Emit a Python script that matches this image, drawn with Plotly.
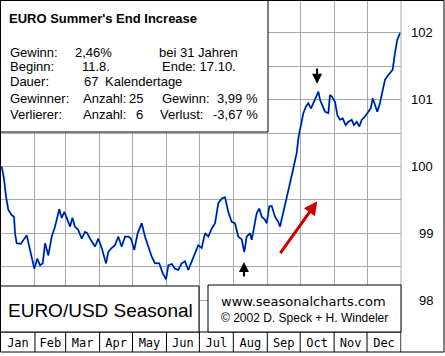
import plotly.graph_objects as go

# ---------------- data ----------------
days = [0.6, 2.7, 4.6, 6.7, 9.8, 11.9, 12.8, 14.3, 18.0, 20.3, 23.5, 25.8, 28.0, 30.4, 33.1,
        35.6, 38.1, 40.2, 43.2, 46.3, 49.3, 53.2, 55.4, 57.8, 60.0, 63.0, 65.1, 67.5, 70.5,
        73.6, 76.7, 78.7, 81.2, 85.8, 88.8, 91.9, 95.8, 97.9, 101.0, 104.0, 107.0, 110.1,
        113.2, 116.2, 118.6, 121.6, 124.7, 128.4, 131.4, 134.4, 137.5, 140.5, 144.4, 147.6,
        150.6, 152.7, 155.8, 158.8, 161.8, 164.9, 167.9, 170.9, 174.0, 177.0, 180.0, 183.1,
        186.2, 189.2, 192.3, 195.3, 198.3, 201.4, 204.4, 207.4, 210.5, 213.5, 216.5, 219.6,
        222.0, 224.2, 227.2, 228.8, 231.1, 233.3, 235.7, 237.9, 240.9, 242.5, 244.8, 247.0,
        250.0, 253.0, 254.6, 256.1, 259.1, 261.2, 263.7, 266.7, 269.8, 271.6, 273.8, 275.9,
        278.3, 280.4, 282.9, 285.0, 287.4, 289.6, 291.1, 293.6, 295.7, 298.7, 300.2, 301.8,
        304.8, 306.9, 309.3, 311.8, 314.5, 316.9, 320.0, 322.1, 324.6, 327.0, 329.2, 332.2,
        335.2, 337.4, 339.2, 341.3, 343.4, 345.8, 348.3, 350.4, 353.4, 357.4, 359.5, 361.6,
        364.2]
values = [100.0, 99.82, 99.55, 99.35, 99.27, 99.25, 99.0, 98.85, 98.84, 98.9, 98.97, 98.8,
          98.65, 98.47, 98.62, 98.52, 98.55, 98.85, 98.67, 98.95, 99.1, 99.36, 99.23, 99.32,
          99.23, 99.1, 99.23, 99.1, 99.05, 98.92, 99.02, 99.0, 98.92, 98.8, 98.92, 98.78,
          98.55, 98.72, 98.78, 98.82, 98.95, 98.8, 98.95, 98.95, 98.92, 98.75, 99.0, 99.15,
          98.95, 98.8, 98.65, 98.55, 98.55, 98.4, 98.31, 98.52, 98.54, 98.47, 98.45, 98.55,
          98.58, 98.45, 98.58, 98.7, 98.82, 98.78, 99.0, 98.95, 99.07, 99.15, 99.45, 99.52,
          99.54, 99.32, 99.17, 99.15, 98.95, 98.91, 98.72, 98.95, 99.0, 98.9, 99.1, 99.3,
          99.37, 99.25, 99.2, 99.15, 99.4, 99.41, 99.25, 99.17, 99.1, 99.2, 99.4, 99.55,
          99.75, 99.97, 100.2, 100.45, 100.65, 100.8, 100.9, 100.95, 100.87, 100.95, 101.02,
          101.12, 101.0, 100.9, 100.82, 100.8, 101.07, 101.05, 100.97, 100.77, 100.7, 100.72,
          100.62, 100.67, 100.7, 100.62, 100.67, 100.6, 100.7, 100.75, 100.82, 100.87, 101.02,
          100.9, 100.82, 100.95, 101.15, 101.3, 101.37, 101.45, 101.7, 101.9, 102.0]

month_names = ["Jan", "Feb", "Mar", "Apr", "May", "Jun",
               "Jul", "Aug", "Sep", "Oct", "Nov", "Dec"]
month_starts = [0, 31, 59, 90, 120, 151, 181, 212, 243, 273, 304, 334, 365]
price_labels = [98, 99, 100, 101, 102]
grid_levels = [98, 98.5, 99, 99.5, 100, 100.5, 101, 101.5, 102]

title_text = "EURO Summer's End Increase"
info_rows = [
    ("Gewinn:", "2,46%", "bei 31 Jahren", ""),
    ("Beginn:", "11.8.", "Ende: 17.10.", ""),
    ("Dauer:", "67", "Kalendertage", ""),
    ("Gewinner:", "Anzahl:", "25", "Gewinn:", "3,99 %"),
    ("Verlierer:", "Anzahl:", "6", "Verlust:", "-3,67 %"),
]

# -------------- layout helpers --------------
W, H = 445, 356
L, R, T, B = 1, 44, 1, 24
PW = W - L - R
PH = H - T - B


def px(x):
    return (x - L) / PW


def py(y):
    return (H - B - y) / PH


GRID = "#a8a8a8"
FONT = "Liberation Sans"

fig = go.Figure()
fig.add_trace(go.Scatter(x=days, y=values, mode="lines",
                         line=dict(color="#20a8d8", width=2.0),
                         hoverinfo="skip", showlegend=False))
fig.add_trace(go.Scatter(x=days, y=values, mode="lines",
                         line=dict(color="#0000a8", width=1.2),
                         showlegend=False))

mid_months = [(month_starts[i] + month_starts[i + 1]) / 2 for i in range(12)]

shapes = []
shapes.append(dict(type="line", xref="paper", yref="paper", x0=px(401), x1=px(401),
                   y0=py(0), y1=py(352), line=dict(color=GRID, width=1), layer="above"))
shapes.append(dict(type="line", xref="paper", yref="paper", x0=px(0), x1=px(401),
                   y0=py(332), y1=py(332), line=dict(color="black", width=1), layer="above"))
for m in month_starts[1:]:
    shapes.append(dict(type="line", xref="x", yref="paper", x0=m, x1=m,
                       y0=py(332), y1=py(352), line=dict(color="black", width=1), layer="above"))
shapes.append(dict(type="rect", xref="paper", yref="paper", x0=px(0.5), x1=px(268),
                   y0=py(132), y1=py(0.5), fillcolor="white",
                   line=dict(color="black", width=1), layer="above"))
shapes.append(dict(type="rect", xref="paper", yref="paper", x0=px(0.5), x1=px(199),
                   y0=py(332), y1=py(286), fillcolor="white",
                   line=dict(color="black", width=1), layer="above"))
shapes.append(dict(type="rect", xref="paper", yref="paper", x0=px(208), x1=px(401),
                   y0=py(332), y1=py(285), fillcolor="white",
                   line=dict(color="black", width=1), layer="above"))
shapes.append(dict(type="rect", xref="paper", yref="paper", x0=px(0.5), x1=px(444),
                   y0=py(352), y1=py(0.5), line=dict(color="black", width=1), layer="above"))

ann = []


def txt(s, x, y, size=13, anchor="left", family=FONT, bold=False):
    ann.append(dict(text=("<b>%s</b>" % s) if bold else s, xref="paper", yref="paper",
                    x=px(x), y=py(y), xanchor=anchor, yanchor="middle", showarrow=False,
                    font=dict(family=family, size=size, color="black")))


txt(title_text, 7, 19, size=13, bold=True)
r = info_rows
txt(r[0][0], 8, 52); txt(r[0][1], 73, 52); txt(r[0][2], 157, 52)
txt(r[1][0], 8, 66.5); txt(r[1][1], 80, 66.5); txt(r[1][2], 160, 66.5)
txt(r[2][0], 8, 82); txt(r[2][1], 82, 82); txt(r[2][2], 103, 82)
txt(r[3][0], 8, 99); txt(r[3][1], 81, 99); txt(r[3][2], 145, 99, anchor="right")
txt(r[3][3], 160, 99); txt(r[3][4], 260, 99, anchor="right")
txt(r[4][0], 8, 114); txt(r[4][1], 81, 114); txt(r[4][2], 145, 114, anchor="right")
txt(r[4][3], 158, 114); txt(r[4][4], 260, 114, anchor="right")

txt("EURO/USD Seasonal", 6, 310, size=19)
txt("www.seasonalcharts.com", 219, 301, size=13, family="DejaVu Sans")
txt("© 2002 D. Speck + H. Windeler", 219, 318, size=12)

for v in price_labels:
    ann.append(dict(text=str(v), xref="paper", yref="y", x=px(435), y=v,
                    xanchor="right", yanchor="middle", showarrow=False,
                    font=dict(family=FONT, size=13, color="black")))

# arrows
ann.append(dict(text="", x=288.4, y=101.24, ax=288.4, ay=101.49, xref="x", yref="y",
                axref="x", ayref="y", showarrow=True, arrowhead=2, arrowsize=1.0,
                arrowwidth=2, arrowcolor="black"))
ann.append(dict(text="", x=221.7, y=98.57, ax=221.7, ay=98.33, xref="x", yref="y",
                axref="x", ayref="y", showarrow=True, arrowhead=2, arrowsize=1.0,
                arrowwidth=2, arrowcolor="black"))
ann.append(dict(text="", x=288.6, y=99.48, ax=253.9, ay=98.68, xref="x", yref="y",
                axref="x", ayref="y", showarrow=True, arrowhead=2, arrowsize=0.9,
                arrowwidth=3, arrowcolor="#c80000"))

fig.update_layout(
    width=W, height=H,
    margin=dict(l=L, r=R, t=T, b=B, pad=0),
    paper_bgcolor="white", plot_bgcolor="white",
    shapes=shapes, annotations=ann,
    xaxis=dict(range=[0, 365], tickvals=mid_months, ticktext=month_names,
               showgrid=False, zeroline=False, showline=False, ticks="",
               tickfont=dict(family="DejaVu Sans Mono", size=12, color="black"),
               ticklabelstandoff=2,
               minor=dict(tickvals=month_starts[1:-1], showgrid=True,
                          gridcolor=GRID, gridwidth=1, ticks="")),
    yaxis=dict(range=[97.521, 102.479], tickvals=grid_levels, showticklabels=False,
               showgrid=True, gridcolor=GRID, gridwidth=1, zeroline=False,
               showline=False, ticks="", side="right"),
    showlegend=False,
)

fig.write_html("out.html", config={"displayModeBar": False},
               post_script="document.body.style.margin='0';document.body.style.overflow='hidden';")
